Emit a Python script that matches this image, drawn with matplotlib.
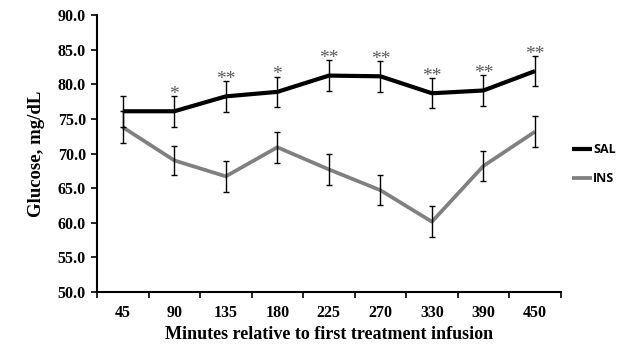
import numpy as np
import matplotlib.pyplot as plt

minutes = ['45', '90', '135', '180', '225', '270', '330', '390', '450']
sal_mean = [76.1, 76.1, 78.25, 78.9, 81.25, 81.15, 78.7, 79.1, 81.9]
sal_se = [2.25, 2.2, 2.2, 2.2, 2.25, 2.2, 2.2, 2.2, 2.15]
ins_mean = [73.8, 69.0, 66.7, 70.9, 67.7, 64.7, 60.15, 68.2, 73.15]
ins_se = [2.3, 2.1, 2.2, 2.2, 2.2, 2.2, 2.2, 2.2, 2.2]
signif = ['', '*', '**', '*', '**', '**', '**', '**', '**']

serif = 'Liberation Serif'

fig = plt.figure(figsize=(6.3, 3.45), dpi=100)
ax = fig.add_axes([0.154, 0.1536, 0.736, 0.8029])

x = np.arange(len(minutes))

ax.plot(x, sal_mean, color='black', lw=3.0, label='SAL', zorder=2,
        solid_capstyle='butt')
ax.plot(x, ins_mean, color='#808080', lw=2.7, label='INS', zorder=2,
        solid_capstyle='butt')
ax.errorbar(x, sal_mean, yerr=sal_se, fmt='none', ecolor='black',
            elinewidth=1.0, capsize=2.5, capthick=1.0, zorder=3)
ax.errorbar(x, ins_mean, yerr=ins_se, fmt='none', ecolor='black',
            elinewidth=1.0, capsize=2.5, capthick=1.0, zorder=3)

# significance marks above the SAL error bars
for xi, m, se, s in zip(x, sal_mean, sal_se, signif):
    if s:
        ax.annotate(s, (xi, m + se), xytext=(0, -2.0),
                    textcoords='offset points', ha='center', va='baseline',
                    fontsize=14, color='#5a5a5a', family=serif)

ax.set_ylim(50, 90)
ax.set_yticks(np.arange(50, 90.1, 5))
ax.set_yticklabels([f'{v:.1f}' for v in np.arange(50, 90.1, 5)],
                   family=serif, fontweight='bold', fontsize=11.5)

ax.set_xlim(-0.5, len(minutes) - 0.5)
ax.set_xticks(np.arange(-0.5, len(minutes), 1.0))
ax.set_xticklabels([])
ax.set_xticks(x, minor=True)
ax.set_xticklabels(minutes, minor=True, family=serif, fontweight='bold',
                   fontsize=11.5)
ax.tick_params(axis='x', which='minor', length=0, pad=9)
ax.tick_params(axis='x', which='major', length=4, width=1.2, direction='out')
ax.tick_params(axis='y', length=4, width=1.2, direction='out', pad=4)

for side in ['top', 'right']:
    ax.spines[side].set_visible(False)
for side in ['left', 'bottom']:
    ax.spines[side].set_linewidth(1.5)

ax.set_ylabel('Glucose, mg/dL', family=serif, fontweight='bold', fontsize=13.5,
              labelpad=9)
ax.set_xlabel('Minutes relative to first treatment infusion', family=serif,
              fontweight='bold', fontsize=13, labelpad=4)

leg = ax.legend(loc='center left', bbox_to_anchor=(1.0, 0.462), frameon=False,
                handlelength=1.6, handletextpad=0.1, labelspacing=1.3,
                prop={'family': 'Open Sans', 'weight': 'bold', 'size': 9})

fig.savefig('out.png', dpi=100)
